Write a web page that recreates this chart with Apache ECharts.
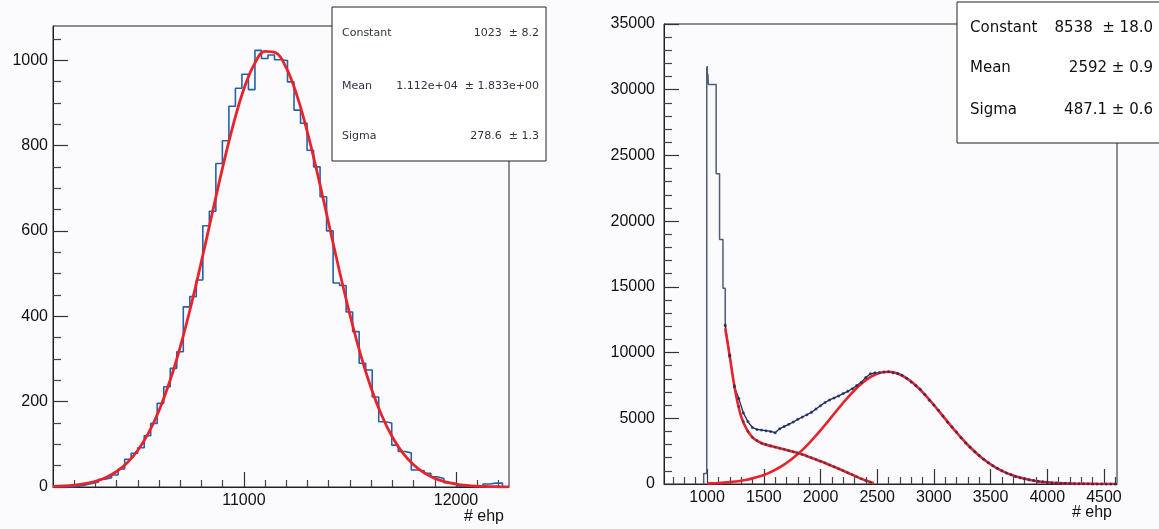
<!DOCTYPE html>
<html><head><meta charset="utf-8">
<script src="https://cdn.jsdelivr.net/npm/echarts@6/dist/echarts.min.js"></script>
<style>html,body{margin:0;padding:0;background:#fbfbfd}#c{width:1159px;height:529px}</style>
</head><body><div id="c"></div>
<script>
// ================= LEFT PANEL DATA =================
const leftRange = [10100, 12250];           // histogram range (# ehp)
const leftCounts = [0, 0, 0, 2, 5, 8, 12, 18, 22, 28,
  42, 65, 79, 92, 120, 149, 196, 235, 278, 317,
  422, 446, 485, 612, 646, 758, 811, 892, 934, 967,
  931, 1023, 1004, 1012, 1001, 999, 949, 883, 852, 789,
  750, 680, 600, 478, 472, 410, 364, 290, 274, 211,
  153, 150, 98, 83, 80, 40, 38, 32, 24, 20,
  10, 7, 2, 2, 1, 1, 7, 9, 9, 0];
const leftFitStart = 10100, leftFitStep = 50;
const leftFitY = [1.3, 2.4, 4.4, 7.8, 13.4, 22.4, 36.3, 56.8, 86.0, 126.2,
  179.2, 246.5, 328.4, 423.5, 528.9, 639.6, 748.9, 849.2, 932.4, 991.2,
  1020.4, 1017.1, 981.7, 917.4, 830.3, 727.6, 617.4, 507.2, 403.6, 310.9,
  231.9, 167.5, 117.2, 79.3, 52.0, 33.0, 20.3, 12.1, 7.0, 3.9,
  2.1, 1.1, 0.6, 0.3];
const leftXMajor = [11000, 12000];
const leftXMinor = [10200, 10300, 10400, 10500, 10600, 10700, 10800, 10900, 11100, 11200, 11300, 11400, 11500, 11600, 11700, 11800, 11900, 12100, 12200];
const leftYMajor = [0, 200, 400, 600, 800, 1000];
const leftYMinor = [50, 100, 150, 250, 300, 350, 450, 500, 550, 650, 700, 750, 850, 900, 950, 1050];
const leftStats = [["Constant", "1023  \u00b1 8.2"], ["Mean", "1.112e+04  \u00b1 1.833e+00"], ["Sigma", "278.6  \u00b1 1.3"]];

// ================= RIGHT PANEL DATA =================
const rightRange = [620, 4615];
const spikeEdges = [970, 997, 1001, 1004, 1007, 1011, 1080, 1110, 1140, 1160];
const spikeCounts = [800, 31600, 31800, 30800, 31200, 30400, 23600, 18600, 14900];
const dataStart = 1160, dataStep = 40;
const dataY = [12100, 9800, 7400, 6500, 5400, 4750, 4300, 4150, 4100, 4060,
  4000, 3900, 4200, 4380, 4540, 4720, 4920, 5100, 5270, 5450,
  5700, 5950, 6200, 6400, 6550, 6700, 6880, 7050, 7250, 7500,
  7750, 8100, 8380, 8460, 8480, 8520, 8540, 8470, 8400, 8280,
  8040, 7760, 7500, 7200, 6810, 6380, 6010, 5620, 5170, 4710,
  4330, 3950, 3520, 3120, 2800, 2460, 2160, 1880, 1620, 1390,
  1190, 1000, 840, 700, 580, 480, 390, 320, 260, 205,
  165, 130, 100, 80, 62, 48, 37, 28, 21, 16,
  12, 9, 7, 5, 4, 3, 2];
const tailDataY = [12000, 9700, 7500, 5900, 4750, 4000, 3550, 3300, 3100, 3000,
  2900, 2800, 2720, 2640, 2540, 2450, 2350, 2250, 2120, 2000,
  1860, 1730, 1600, 1450, 1300, 1160, 1010, 860, 700, 550,
  400, 260, 140];
const tailFitX = [1160, 1200, 1250, 1300, 1350, 1400, 1450, 1500, 1550, 1600, 1650, 1700, 1750, 1800, 1850, 1900, 1950, 2000, 2050, 2100, 2150, 2200, 2250, 2300, 2350, 2400, 2450, 2470];
const tailFitY = [11850, 9700, 7000, 5150, 4150, 3550, 3250, 3050, 2920, 2810, 2700, 2590, 2470, 2350, 2220, 2060, 1900, 1730, 1560, 1380, 1200, 1010, 820, 630, 430, 260, 110, 50];
const gausFitStart = 1000, gausFitStep = 50;
const gausFitY = [40.9, 56.9, 78.3, 106.7, 143.9, 192.0, 253.4, 330.9, 427.6, 546.8,
  691.9, 866.3, 1073.2, 1315.9, 1596.6, 1916.7, 2276.4, 2676.0, 3112.4, 3582.1,
  4079.5, 4597.2, 5126.6, 5656.7, 6175.9, 6672.7, 7133.8, 7546.7, 7899.9, 8182.8,
  8387.1, 8506.3, 8536.8, 8477.6, 8330.7, 8100.4, 7794.0, 7420.6, 6990.9, 6516.9,
  6011.6, 5487.3, 4956.2, 4429.8, 3917.8, 3428.5, 2969.1, 2544.1, 2157.0, 1809.7,
  1502.4, 1234.1, 1003.4, 807.1, 642.2, 505.9, 394.3, 304.0, 232.1, 175.2,
  130.9, 96.8, 70.8, 51.2, 36.7, 26, 18, 12.5, 8.5, 5.7,
  3.8, 2.5, 1.6];
const rightXMajor = [1000, 1500, 2000, 2500, 3000, 3500, 4000, 4500];
const rightYMajor = [0, 5000, 10000, 15000, 20000, 25000, 30000, 35000];
const rightStats = [["Constant", "8538  \u00b1 18.0"], ["Mean", "2592 \u00b1 0.9"], ["Sigma", "487.1 \u00b1 0.6"]];

// ================= BUILD =================
function range(a, b, s) { const r = []; for (let v = a; v <= b + 1e-9; v += s) r.push(v); return r; }
const rightXMinor = range(700, 4600, 100).filter(v => v % 500 !== 0);
const rightYMinor = range(1000, 34000, 1000).filter(v => v % 5000 !== 0);

function outline(edges, counts, startY, endY) {
  const pts = [[edges[0], startY]];
  for (let i = 0; i < counts.length; i++) { pts.push([edges[i], counts[i]]); pts.push([edges[i + 1], counts[i]]); }
  pts.push([edges[edges.length - 1], endY]);
  return pts;
}
const nL = leftCounts.length, wL = (leftRange[1] - leftRange[0]) / nL;
const leftEdges = leftCounts.map((_, i) => leftRange[0] + i * wL).concat([leftRange[1]]);
const leftHist = outline(leftEdges, leftCounts, 0, 0);
const leftFit = leftFitY.map((y, i) => [leftFitStart + i * leftFitStep, y]);
const spike = outline(spikeEdges, spikeCounts, 0, dataY[0]);
const dataPts = dataY.map((y, i) => [dataStart + i * dataStep, y]);
const tailPts = tailDataY.map((y, i) => [dataStart + i * dataStep, y]);
const tailFit = tailFitX.map((x, i) => [x, tailFitY[i]]);
const gausFit = gausFitY.map((y, i) => [gausFitStart + i * gausFitStep, y]);

const FONT = 'Liberation Sans';
const fmt = v => String(v);
function majorAxis(grid, mn, mx, ticks, isX, margin) {
  return {
    type: 'value', gridIndex: grid, min: mn, max: mx, position: isX ? 'bottom' : 'left',
    axisLine: { show: true, onZero: false, lineStyle: { color: '#222', width: 1 } },
    axisTick: { show: true, inside: true, length: 15, customValues: ticks, lineStyle: { color: '#333', width: 1.2 } },
    axisLabel: { show: true, customValues: ticks, fontSize: 16, fontFamily: FONT, color: '#111', margin: margin, formatter: fmt },
    splitLine: { show: false }
  };
}
function minorAxis(grid, mn, mx, ticks, isX, len) {
  return {
    type: 'value', gridIndex: grid, min: mn, max: mx, position: isX ? 'bottom' : 'left',
    axisLine: { show: false },
    axisTick: { show: true, inside: true, length: len, customValues: ticks, lineStyle: { color: '#444', width: 1.2 } },
    axisLabel: { show: false }, splitLine: { show: false }
  };
}
const gL = { left: 53, top: 26, width: 456, height: 461 };
const gR = { left: 664, top: 24, width: 453, height: 460 };

function statsBox(x, y, w, h, rows, lx, rx, ys, font, color) {
  const els = [{ type: 'rect', z: 100, shape: { x: x, y: y, width: w, height: h }, style: { fill: '#ffffff', stroke: '#222', lineWidth: 1 } }];
  rows.forEach((r, i) => {
    els.push({ type: 'text', z: 101, x: lx, y: ys[i], style: { text: r[0], font: font, fill: color, align: 'left', textAlign: 'left', verticalAlign: 'middle', textVerticalAlign: 'middle' } });
    els.push({ type: 'text', z: 101, x: rx, y: ys[i], style: { text: r[1], font: font, fill: color, align: 'right', textAlign: 'right', verticalAlign: 'middle', textVerticalAlign: 'middle' } });
  });
  return els;
}

const chart = echarts.init(document.getElementById('c'), null, { renderer: 'canvas' });
chart.setOption({
  animation: false,
  backgroundColor: '#fbfbfd',
  grid: [
    Object.assign({ show: true, borderColor: '#222', borderWidth: 1, backgroundColor: 'transparent' }, gL),
    Object.assign({ show: false }, gL),
    Object.assign({ show: true, borderColor: '#222', borderWidth: 1, backgroundColor: 'transparent' }, gR),
    Object.assign({ show: false }, gR)
  ],
  xAxis: [
    majorAxis(0, leftRange[0], leftRange[1], leftXMajor, true, 6),
    minorAxis(1, leftRange[0], leftRange[1], leftXMinor, true, 7),
    majorAxis(2, rightRange[0], rightRange[1], rightXMajor, true, 6),
    minorAxis(3, rightRange[0], rightRange[1], rightXMinor, true, 7)
  ],
  yAxis: [
    majorAxis(0, 0, 1080, leftYMajor, false, 5),
    minorAxis(1, 0, 1080, leftYMinor, false, 8),
    majorAxis(2, 0, 35000, rightYMajor, false, 9),
    minorAxis(3, 0, 35000, rightYMinor, false, 8)
  ],
  series: [
    { type: 'line', xAxisIndex: 0, yAxisIndex: 0, data: leftHist, showSymbol: false, lineStyle: { color: '#2462a8', width: 1.6 }, z: 2 },
    { type: 'line', xAxisIndex: 0, yAxisIndex: 0, data: leftFit, showSymbol: false, smooth: 0.4, lineStyle: { color: '#e8232b', width: 2.8 }, z: 3 },
    { type: 'line', xAxisIndex: 2, yAxisIndex: 2, data: spike, showSymbol: false, lineStyle: { color: '#4d5e78', width: 1.5 }, z: 2 },
    { type: 'line', xAxisIndex: 2, yAxisIndex: 2, data: dataPts, showSymbol: false, lineStyle: { color: '#1c2a5e', width: 1.3 }, z: 2 },
    { type: 'line', xAxisIndex: 2, yAxisIndex: 2, data: gausFit, showSymbol: false, smooth: 0.4, lineStyle: { color: '#e8232b', width: 2.6 }, z: 3 },
    { type: 'line', xAxisIndex: 2, yAxisIndex: 2, data: tailFit, showSymbol: false, smooth: 0.4, lineStyle: { color: '#e8232b', width: 2.6 }, z: 3 },
    { type: 'scatter', xAxisIndex: 2, yAxisIndex: 2, data: tailPts, symbol: 'circle', symbolSize: 2.6, itemStyle: { color: '#3a3344' }, z: 4 },
    { type: 'scatter', xAxisIndex: 2, yAxisIndex: 2, data: dataPts, symbol: 'circle', symbolSize: 3, itemStyle: { color: '#1c2a5e' }, z: 4 }
  ],
  graphic: [].concat(
    statsBox(332, 7, 214, 154, leftStats, 342, 539, [33, 86, 136], '11px "DejaVu Sans"', '#2e3444'),
    statsBox(957, 2, 210, 141, rightStats, 970, 1153, [28, 68, 110], '15px "DejaVu Sans"', '#111'),
    [
      { type: 'text', z: 101, x: 484, y: 517, style: { text: '# ehp', font: '16px "Liberation Sans"', fill: '#111', align: 'center', textAlign: 'center', verticalAlign: 'middle', textVerticalAlign: 'middle' } },
      { type: 'text', z: 101, x: 1092, y: 513, style: { text: '# ehp', font: '16px "Liberation Sans"', fill: '#111', align: 'center', textAlign: 'center', verticalAlign: 'middle', textVerticalAlign: 'middle' } }
    ]
  )
});
</script></body></html>
